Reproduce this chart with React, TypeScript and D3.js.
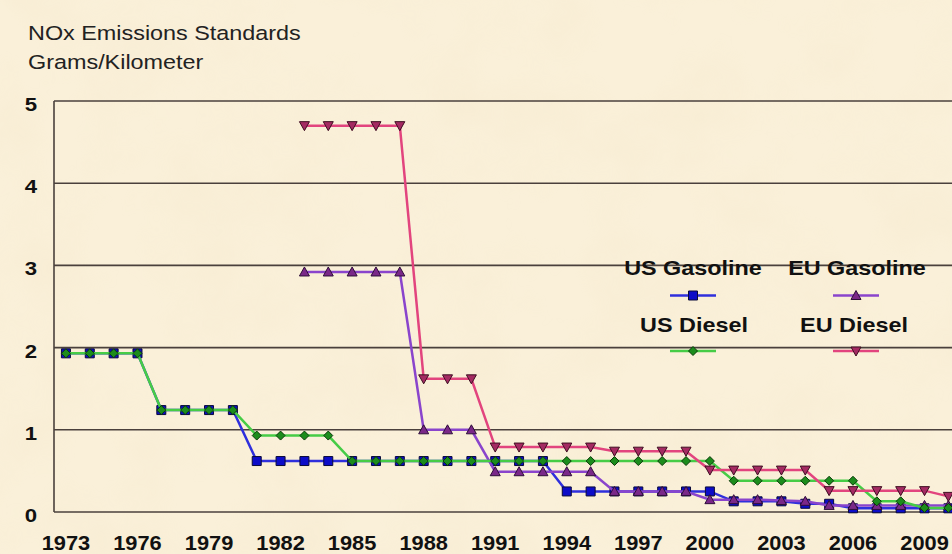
import React from "react";
import * as d3 from "d3";

// years on the category axis
const years = d3.range(1973, 2011);
const tickYears = [1973, 1976, 1979, 1982, 1985, 1988, 1991, 1994, 1997, 2000, 2003, 2006, 2009];
const yTicks = [0, 1, 2, 3, 4, 5];

// g/km, one value per year (null = no standard)
const usGasoline = [
  1.93, 1.93, 1.93, 1.93, 1.24, 1.24, 1.24, 1.24,
  0.62, 0.62, 0.62, 0.62, 0.62, 0.62, 0.62, 0.62, 0.62, 0.62, 0.62, 0.62, 0.62,
  0.25, 0.25, 0.25, 0.25, 0.25, 0.25, 0.25,
  0.13, 0.13, 0.13, 0.1, 0.1,
  0.045, 0.045, 0.045, 0.045, 0.045,
];
const usDiesel = [
  1.93, 1.93, 1.93, 1.93, 1.24, 1.24, 1.24, 1.24,
  0.93, 0.93, 0.93, 0.93,
  0.62, 0.62, 0.62, 0.62, 0.62, 0.62, 0.62, 0.62, 0.62, 0.62, 0.62, 0.62, 0.62, 0.62, 0.62, 0.62,
  0.38, 0.38, 0.38, 0.38, 0.38, 0.38,
  0.13, 0.13, 0.05, 0.05,
];
const euGasoline = [
  null, null, null, null, null, null, null, null, null, null,
  2.92, 2.92, 2.92, 2.92, 2.92,
  1.0, 1.0, 1.0,
  0.49, 0.49, 0.49, 0.49, 0.49,
  0.25, 0.25, 0.25, 0.25,
  0.15, 0.15, 0.15, 0.14, 0.13,
  0.08, 0.08, 0.08, 0.08, 0.08, 0.08,
];
const euDiesel = [
  null, null, null, null, null, null, null, null, null, null,
  4.7, 4.7, 4.7, 4.7, 4.7,
  1.62, 1.62, 1.62,
  0.79, 0.79, 0.79, 0.79, 0.79,
  0.74, 0.74, 0.74, 0.74,
  0.51, 0.51, 0.51, 0.51, 0.51,
  0.26, 0.26, 0.26, 0.26, 0.26,
  0.19,
];

const W = 952;
const H = 554;
const left = 54;
const top = 101;
const bottom = 512;
const step = 23.85;

const x = d3.scaleBand<number>().domain(years).range([left, left + years.length * step]);
const y = d3.scaleLinear().domain([0, 5]).range([bottom, top]);
const cx = (yr: number) => (x(yr) || 0) + x.bandwidth() / 2;

const frame = "#4a403c";
const font = "'Liberation Sans', Arial, sans-serif";

type Series = {
  name: string;
  values: (number | null)[];
  line: string;
  fill: string;
  stroke: string;
  marker: "square" | "diamond" | "up" | "down";
};

// drawing order, also legend order (row by row)
const series: Series[] = [
  { name: "US Gasoline", values: usGasoline, line: "#2f2fdc", fill: "#0c0cc8", stroke: "#0a0a3a", marker: "square" },
  { name: "EU Gasoline", values: euGasoline, line: "#8a44cc", fill: "#7a2888", stroke: "#2e0e3a", marker: "up" },
  { name: "US Diesel", values: usDiesel, line: "#46cc46", fill: "#1c8c1c", stroke: "#0a3a0a", marker: "diamond" },
  { name: "EU Diesel", values: euDiesel, line: "#e2447e", fill: "#a42a62", stroke: "#3e0e22", marker: "down" },
];

const markerPath = (m: Series["marker"]) => {
  if (m === "square") return "M-4.5,-4.5H4.5V4.5H-4.5Z";
  if (m === "diamond") return "M0,-4.5L4.5,0L0,4.5L-4.5,0Z";
  if (m === "up") return "M0,-5L5,4H-5Z";
  return "M0,5L5,-4H-5Z";
};

const lineGen = d3
  .line<number | null>()
  .defined((d) => d != null)
  .x((_, i) => cx(years[i]))
  .y((d) => y(d as number));

// legend layout: two columns, two rows
const legendPos = [
  { tx: 693, ty: 275, ly: 295.5 },
  { tx: 857, ty: 275, ly: 295.5 },
  { tx: 694, ty: 332, ly: 351 },
  { tx: 854, ty: 332, ly: 351 },
];

const App: React.FC = () => {
  return (
    <div>
      <style>{"body{margin:0}"}</style>
      <svg width={W} height={H} style={{ display: "block" }} fontFamily={font}>
        <defs>
          <filter id="parch" x="0" y="0" width="100%" height="100%">
            <feTurbulence type="fractalNoise" baseFrequency="0.012" numOctaves="4" seed="7" />
            <feColorMatrix
              type="matrix"
              values="0 0 0 0 0.86  0 0 0 0 0.74  0 0 0 0 0.52  0 0 0 0.9 -0.35"
            />
          </filter>
        </defs>
        <rect width={W} height={H} fill="#faf0d9" />
        <rect width={W} height={H} filter="url(#parch)" opacity={0.35} />

        {/* title */}
        <text transform="translate(28,39.5) scale(1.2,1)" fontSize={19.5} fill="#222">
          NOx Emissions Standards
        </text>
        <text transform="translate(28,69) scale(1.2,1)" fontSize={19.5} fill="#222">
          Grams/Kilometer
        </text>

        {/* gridlines and frame */}
        {yTicks.map((t) => (
          <line key={t} x1={left} x2={W} y1={y(t)} y2={y(t)} stroke={frame} strokeWidth={1.6} />
        ))}
        <line x1={left} x2={left} y1={top} y2={bottom} stroke={frame} strokeWidth={1.6} />

        {/* y tick labels */}
        {yTicks.map((t) => (
          <text
            key={t}
            transform={`translate(37,${y(t) + 10}) scale(1.2,1)`}
            textAnchor="end"
            fontSize={18.5}
            fontWeight="bold"
            fill="#111"
          >
            {t}
          </text>
        ))}

        {/* x tick labels */}
        {tickYears.map((yr) => (
          <text
            key={yr}
            transform={`translate(${cx(yr)},550) scale(1.12,1)`}
            textAnchor="middle"
            fontSize={19.5}
            fontWeight="bold"
            fill="#111"
          >
            {yr}
          </text>
        ))}

        {/* legend */}
        {series.map((s, i) => {
          const p = legendPos[i];
          const lx = i % 2 === 0 ? 670 : 833;
          return (
            <g key={s.name}>
              <text
                transform={`translate(${p.tx},${p.ty}) scale(1.2,1)`}
                textAnchor="middle"
                fontSize={19.5}
                fontWeight="bold"
                fill="#111"
              >
                {s.name}
              </text>
              <line x1={lx} x2={lx + 46} y1={p.ly} y2={p.ly} stroke={s.line} strokeWidth={2.5} />
              <path
                d={markerPath(s.marker)}
                transform={`translate(${lx + 23},${p.ly})`}
                fill={s.fill}
                stroke={s.stroke}
                strokeWidth={1}
              />
            </g>
          );
        })}

        {/* series */}
        {series.map((s) => (
          <g key={s.name}>
            <path d={lineGen(s.values) || ""} fill="none" stroke={s.line} strokeWidth={2.5} />
            {s.values.map((v, i) =>
              v == null ? null : (
                <path
                  key={i}
                  d={markerPath(s.marker)}
                  transform={`translate(${cx(years[i])},${y(v)})`}
                  fill={s.fill}
                  stroke={s.stroke}
                  strokeWidth={1}
                />
              )
            )}
          </g>
        ))}
      </svg>
    </div>
  );
};

export default App;
